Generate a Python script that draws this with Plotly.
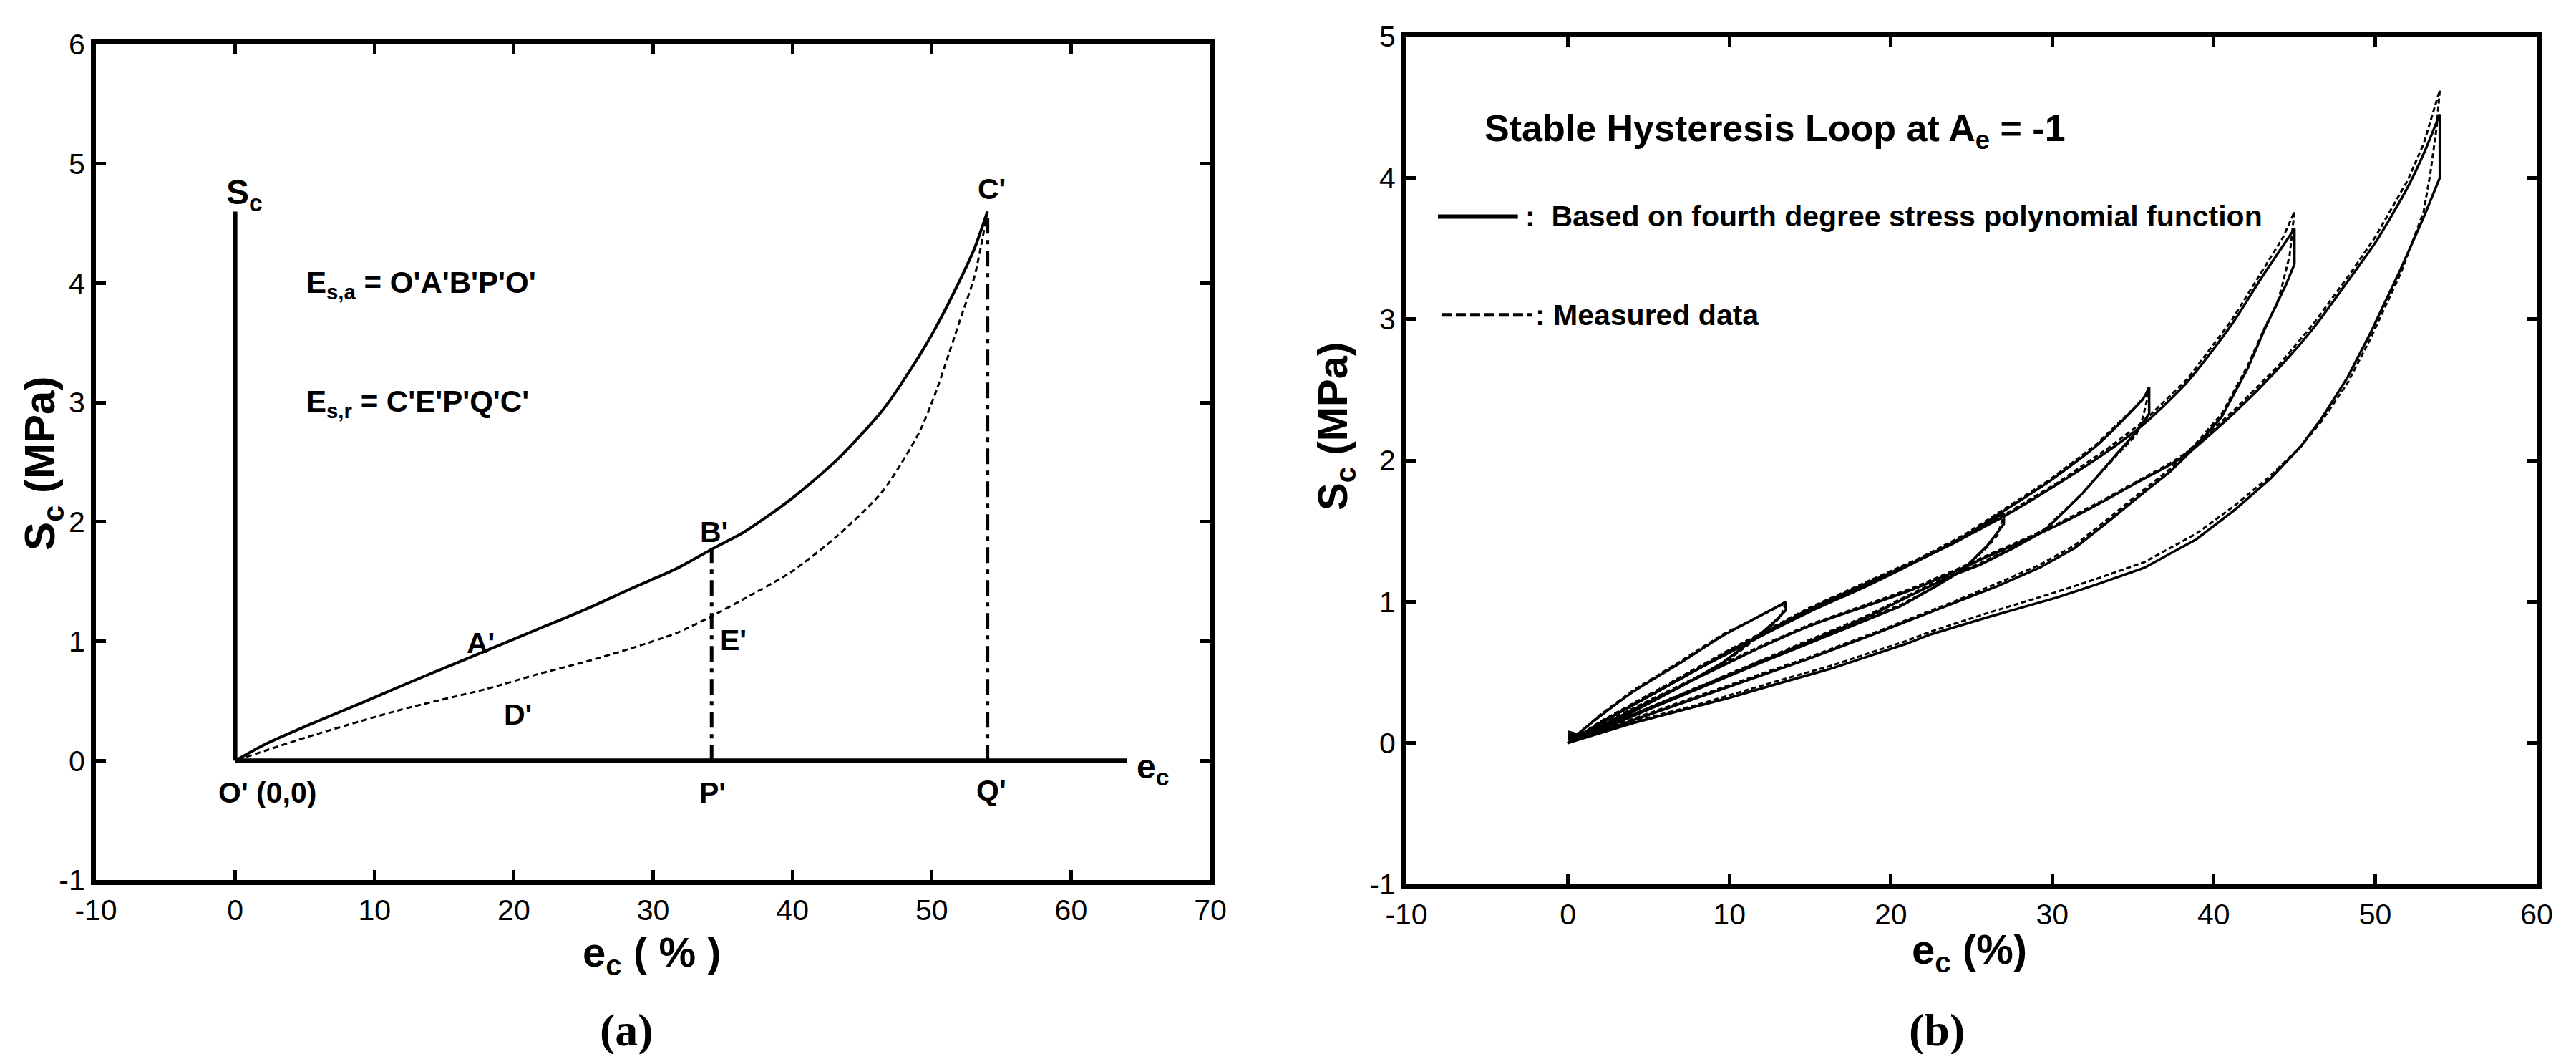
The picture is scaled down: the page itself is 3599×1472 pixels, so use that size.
import plotly.graph_objects as go

W, H = 3599, 1472

# ---------------- Panel (a) data ----------------
A_LOAD_X = [0, 2.2, 5.5, 8.8, 12.0, 15.3, 18.0, 21.9, 25.2, 28.4, 31.7, 34.2, 36.6, 39.9, 43.2, 46.5, 49.1, 50.3, 52.0, 53.1, 54.0]
A_LOAD_Y = [0, 0.14, 0.31, 0.47, 0.63, 0.79, 0.92, 1.11, 1.27, 1.44, 1.61, 1.77, 1.92, 2.19, 2.52, 2.94, 3.39, 3.63, 4.02, 4.30, 4.6]
A_UNLOAD_X = [54.0, 53.1, 52.0, 50.3, 49.1, 46.5, 43.2, 39.9, 36.6, 34.2, 31.7, 28.4, 25.2, 21.9, 18.0, 12.0, 5.5, 0]
A_UNLOAD_Y = [4.6, 4.07, 3.68, 3.09, 2.75, 2.26, 1.88, 1.58, 1.36, 1.21, 1.07, 0.94, 0.83, 0.73, 0.60, 0.43, 0.21, 0]
A_SC_AXIS_TOP = 4.6
A_EC_AXIS_END = 64
A_POINT_B = (34.2, 1.77)
A_POINT_C = (54.0, 4.6)

# ---------------- Panel (b) data: model (solid) ----------------
M1_LOAD_X = [0, 1, 2, 4, 7, 9.6, 11.9, 13.2, 13.5]
M1_LOAD_Y = [0, 0.1, 0.19, 0.36, 0.57, 0.76, 0.9, 0.98, 1.0]
M1_UNL_X = [13.5, 13.5, 12.8, 12.1, 11.0, 9.6, 7.0, 5.0, 3.0, 1.0, 0]
M1_UNL_Y = [1.0, 0.94, 0.86, 0.79, 0.69, 0.57, 0.40, 0.28, 0.16, 0.05, 0.06]

M2_LOAD_X = [0, 2, 5, 8, 10, 12, 15, 18.5, 20.65, 22, 24, 25.5, 27]
M2_LOAD_Y = [0, 0.14, 0.33, 0.52, 0.64, 0.76, 0.94, 1.12, 1.24, 1.31, 1.42, 1.52, 1.63]
M2_UNL_X = [27, 27, 26, 24.4, 22.8, 20.65, 18.5, 15, 12, 8, 4, 1, 0]
M2_UNL_Y = [1.63, 1.55, 1.40, 1.22, 1.11, 0.97, 0.87, 0.71, 0.57, 0.38, 0.19, 0.05, 0.08]

M3_LOAD_X = [0, 2, 5, 8, 10, 12, 15, 18.5, 22, 24.5, 27.1, 29.8, 32.7, 34.5, 35.7, 36]
M3_LOAD_Y = [0, 0.14, 0.33, 0.52, 0.65, 0.77, 0.95, 1.13, 1.31, 1.46, 1.65, 1.85, 2.10, 2.30, 2.45, 2.52]
M3_UNL_X = [36, 36, 35.2, 34.1, 31.9, 29.5, 27.6, 25.5, 23.9, 21.7, 18.5, 15, 10, 5, 2, 0]
M3_UNL_Y = [2.52, 2.33, 2.20, 2.06, 1.77, 1.50, 1.38, 1.26, 1.19, 1.07, 0.89, 0.72, 0.48, 0.24, 0.09, 0.05]

M4_LOAD_X = [0, 2, 5, 8, 10, 12, 15, 18.5, 20.65, 23.9, 27.1, 30.3, 33.5, 35.7, 38.4, 41.1, 43, 44.3, 45]
M4_LOAD_Y = [0, 0.14, 0.33, 0.52, 0.64, 0.76, 0.93, 1.11, 1.23, 1.42, 1.61, 1.83, 2.07, 2.26, 2.56, 2.96, 3.30, 3.52, 3.64]
M4_UNL_X = [45, 45, 44.5, 43.9, 43.2, 42.1, 40.5, 38.9, 37.3, 35.2, 33.5, 31.4, 29.2, 26.6, 23.9, 21.2, 18.5, 15, 10, 5, 2, 0]
M4_UNL_Y = [3.64, 3.39, 3.25, 3.11, 2.94, 2.65, 2.31, 2.10, 1.92, 1.73, 1.57, 1.38, 1.24, 1.11, 0.99, 0.87, 0.75, 0.60, 0.40, 0.20, 0.08, 0.03]

M5_LOAD_X = [0, 2, 5, 8, 10, 12, 15, 18.5, 21.2, 23.9, 25.8, 28.2, 30.3, 33, 35.2, 37.3, 38.4, 41.3, 44, 46.2, 48.5, 50, 52, 53, 54]
M5_LOAD_Y = [0, 0.12, 0.29, 0.46, 0.57, 0.68, 0.83, 0.97, 1.08, 1.21, 1.31, 1.43, 1.54, 1.70, 1.84, 1.97, 2.05, 2.34, 2.65, 2.94, 3.30, 3.54, 3.93, 4.17, 4.45]
M5_UNL_X = [54, 54, 53, 51.6, 49.7, 48.3, 46.7, 45.4, 43.5, 41.3, 38.9, 35.7, 32.7, 30.3, 26, 22.5, 20.9, 18.5, 16.4, 13, 10, 8, 6, 4, 2, 0]
M5_UNL_Y = [4.45, 4.0, 3.72, 3.36, 2.90, 2.59, 2.30, 2.10, 1.87, 1.65, 1.44, 1.24, 1.12, 1.03, 0.89, 0.77, 0.70, 0.61, 0.53, 0.42, 0.32, 0.26, 0.20, 0.14, 0.07, 0.0]

# ---------------- Panel (b) data: measured (dashed) ----------------
D1_X = [0, 1, 2, 4, 7, 9.6, 11.9, 13.2, 13.5, 13.2, 12.8, 12.1, 11.0, 9.6, 7.0, 5.0, 3.0, 1.0, 0]
D1_Y = [0, 0.1, 0.2, 0.37, 0.58, 0.77, 0.9, 0.97, 0.99, 0.90, 0.85, 0.78, 0.68, 0.56, 0.40, 0.28, 0.16, 0.05, 0.04]

D2_X = [0, 2, 5, 8, 10, 12, 15, 18.5, 20.65, 22, 24, 25.5, 27, 26.6, 26, 24.4, 22.8, 20.65, 18.5, 15, 12, 8, 4, 1, 0]
D2_Y = [0, 0.15, 0.34, 0.53, 0.65, 0.77, 0.95, 1.12, 1.24, 1.31, 1.42, 1.51, 1.61, 1.47, 1.39, 1.22, 1.11, 0.98, 0.88, 0.72, 0.58, 0.39, 0.20, 0.06, 0.05]

D3_X = [0, 2, 5, 8, 10, 12, 15, 18.5, 22, 24.5, 27.1, 29.8, 32.7, 34.5, 35.7, 36, 35.6, 35.2, 34.1, 31.9, 29.5, 27.6, 25.5, 23.9, 21.7, 18.5, 15, 10, 5, 2, 0]
D3_Y = [0, 0.15, 0.34, 0.53, 0.66, 0.78, 0.96, 1.14, 1.32, 1.47, 1.66, 1.86, 2.11, 2.31, 2.44, 2.49, 2.30, 2.18, 2.05, 1.77, 1.51, 1.39, 1.27, 1.20, 1.08, 0.90, 0.73, 0.49, 0.25, 0.10, 0.04]

D4_X = [0, 2, 5, 8, 10, 12, 15, 18.5, 20.65, 23.9, 27.1, 30.3, 33.5, 35.7, 38.4, 41.1, 43, 44.3, 45, 44.7, 44.2, 43.9, 43.2, 42.1, 40.5, 38.9, 37.3, 35.2, 33.5, 31.4, 29.2, 26.6, 23.9, 21.2, 18.5, 15, 10, 5, 2, 0]
D4_Y = [0, 0.15, 0.34, 0.53, 0.65, 0.77, 0.94, 1.12, 1.24, 1.43, 1.62, 1.84, 2.09, 2.28, 2.58, 2.99, 3.34, 3.58, 3.76, 3.45, 3.22, 3.10, 2.95, 2.67, 2.33, 2.12, 1.94, 1.75, 1.59, 1.40, 1.26, 1.13, 1.00, 0.88, 0.76, 0.61, 0.41, 0.21, 0.09, 0.04]

D5_X = [0, 2, 5, 8, 10, 12, 15, 18.5, 21.2, 23.9, 25.8, 28.2, 30.3, 33, 35.2, 37.3, 38.4, 41.3, 44, 46.2, 48.5, 50, 52, 53, 54, 53.8, 53.4, 53, 51.6, 49.7, 48.3, 46.7, 45.4, 43.5, 41.3, 38.9, 35.7, 32.7, 30.3, 26, 22.5, 20.9, 18.5, 16.4, 13, 10, 8, 6, 4, 2, 0]
D5_Y = [0, 0.13, 0.30, 0.47, 0.58, 0.69, 0.84, 0.98, 1.09, 1.22, 1.32, 1.44, 1.55, 1.71, 1.85, 1.98, 2.06, 2.36, 2.67, 2.97, 3.33, 3.58, 3.98, 4.24, 4.62, 4.35, 4.02, 3.76, 3.33, 2.86, 2.55, 2.28, 2.10, 1.89, 1.68, 1.48, 1.28, 1.16, 1.07, 0.92, 0.79, 0.72, 0.63, 0.55, 0.44, 0.34, 0.27, 0.21, 0.15, 0.08, 0.02]

# tick values / labels
A_XTICKS = [-10, 0, 10, 20, 30, 40, 50, 60, 70]
A_YTICKS = [-1, 0, 1, 2, 3, 4, 5, 6]
B_XTICKS = [-10, 0, 10, 20, 30, 40, 50, 60]
B_YTICKS = [-1, 0, 1, 2, 3, 4, 5]


def lab(v):
    return "-" + str(-v) if v < 0 else str(v)


BLACK = "#000000"
SANS = "Liberation Sans, Arial, sans-serif"
SERIF = "Liberation Serif, Times New Roman, serif"

fig = go.Figure()


def line(x, y, xa, ya, width, dash="solid", shape="linear"):
    fig.add_trace(go.Scatter(x=x, y=y, xaxis=xa, yaxis=ya, mode="lines",
                             line=dict(color=BLACK, width=width, dash=dash, shape=shape,
                                       smoothing=0.7 if shape == "spline" else None),
                             hoverinfo="skip", showlegend=False))


# ---- panel (a) ----
line([0, 0], [0, A_SC_AXIS_TOP], "x", "y", 6)
line([0, A_EC_AXIS_END], [0, 0], "x", "y", 6)
line(A_LOAD_X, A_LOAD_Y, "x", "y", 4, shape="spline")
line(A_UNLOAD_X, A_UNLOAD_Y, "x", "y", 3, "8px,5px", shape="spline")
DASHDOT = "22px,9px,6px,9px"
line([A_POINT_B[0], A_POINT_B[0]], [0, A_POINT_B[1]], "x", "y", 5, DASHDOT)
line([A_POINT_C[0], A_POINT_C[0]], [0, A_POINT_C[1]], "x", "y", 5, DASHDOT)

# ---- panel (b) ----
model_loops = [
    (M1_LOAD_X, M1_LOAD_Y, M1_UNL_X, M1_UNL_Y),
    (M2_LOAD_X, M2_LOAD_Y, M2_UNL_X, M2_UNL_Y),
    (M3_LOAD_X, M3_LOAD_Y, M3_UNL_X, M3_UNL_Y),
    (M4_LOAD_X, M4_LOAD_Y, M4_UNL_X, M4_UNL_Y),
    (M5_LOAD_X, M5_LOAD_Y, M5_UNL_X, M5_UNL_Y),
]
measured_loops = [(D1_X, D1_Y), (D2_X, D2_Y), (D3_X, D3_Y), (D4_X, D4_Y), (D5_X, D5_Y)]
for dx, dy in measured_loops:
    line(dx, dy, "x2", "y2", 3, "7px,4px")
for lx, ly, ux, uy in model_loops:
    line(lx, ly, "x2", "y2", 3.5, shape="spline")
    line(ux, uy, "x2", "y2", 3.5)

# legend samples (drawn as shapes in data coords of panel b)
LEG_SOLID = dict(x0=-8.05, x1=-3.1, y=3.726)
LEG_DASH = dict(x0=-7.83, x1=-2.2, y=3.03)
shapes = [
    dict(type="line", xref="x2", yref="y2", x0=LEG_SOLID["x0"], x1=LEG_SOLID["x1"],
         y0=LEG_SOLID["y"], y1=LEG_SOLID["y"], line=dict(color=BLACK, width=6)),
    dict(type="line", xref="x2", yref="y2", x0=LEG_DASH["x0"], x1=LEG_DASH["x1"],
         y0=LEG_DASH["y"], y1=LEG_DASH["y"], line=dict(color=BLACK, width=5, dash="14px,6px")),
]

ann = []


def text(t, x, y, xref, yref, size, xanchor="center", yanchor="middle", family=SANS, angle=0):
    ann.append(dict(text=t, x=x, y=y, xref=xref, yref=yref, showarrow=False,
                    xanchor=xanchor, yanchor=yanchor, textangle=angle,
                    font=dict(family=family, size=size, color=BLACK)))


# panel (a) labels
text("<b>S<sub>c</sub></b>", -0.75, 4.74, "x", "y", 48, xanchor="left")
text("<b>e<sub>c</sub></b>", 64.6, -0.07, "x", "y", 48, xanchor="left")
text("<b>O' (0,0)</b>", 2.3, -0.27, "x", "y", 41)
text("<b>P'</b>", 34.25, -0.27, "x", "y", 41)
text("<b>Q'</b>", 54.3, -0.25, "x", "y", 41)
text("<b>C'</b>", 54.3, 4.79, "x", "y", 41)
text("<b>B'</b>", 34.35, 1.915, "x", "y", 41)
text("<b>A'</b>", 17.6, 0.986, "x", "y", 41)
text("<b>E'</b>", 35.75, 1.01, "x", "y", 41)
text("<b>D'</b>", 20.3, 0.386, "x", "y", 41)
text("<b>E<sub>s,a</sub> = O'A'B'P'O'</b>", 5.0, 3.99, "x", "y", 42, xanchor="left")
text("<b>E<sub>s,r</sub> = C'E'P'Q'C'</b>", 5.0, 2.99, "x", "y", 42, xanchor="left")

# panel (b) labels
text("<b>Stable Hysteresis Loop at A<sub>e</sub> = -1</b>", -5.26, 4.33, "x2", "y2", 52, xanchor="left")
text("<b>:  Based on fourth degree stress polynomial function</b>", -2.75, 3.726, "x2", "y2", 41, xanchor="left")
text("<b>: Measured data</b>", -2.1, 3.03, "x2", "y2", 41, xanchor="left")

# axis titles & panel captions (paper coords)
text("<b>e<sub>c</sub> ( % )</b>", 902 / W, 1 - 1326 / H, "paper", "paper", 58)
text("<b>e<sub>c</sub> (%)</b>", 2743 / W, 1 - 1322 / H, "paper", "paper", 58)
text("<b>S<sub>c</sub> (MPa)</b>", 52 / W, 1 - 640 / H, "paper", "paper", 60, angle=-90)
text("<b>S<sub>c</sub> (MPa)</b>", 1858 / W, 1 - 588 / H, "paper", "paper", 58, angle=-90)
text("<b>(a)</b>", 867 / W, 1 - 1430 / H, "paper", "paper", 64, family=SERIF)
text("<b>(b)</b>", 2698 / W, 1 - 1430 / H, "paper", "paper", 64, family=SERIF)

axis_common = dict(showline=True, linewidth=7, linecolor=BLACK, mirror="ticks",
                   ticks="inside", ticklen=14, tickwidth=5, tickcolor=BLACK,
                   showgrid=False, zeroline=False, automargin=False,
                   tickfont=dict(family=SANS, size=41, color=BLACK), fixedrange=True)

fig.update_layout(
    width=W, height=H,
    margin=dict(l=0, r=0, t=0, b=0, pad=0, autoexpand=False),
    paper_bgcolor="white", plot_bgcolor="white",
    showlegend=False,
    xaxis=dict(domain=[126 / W, 1683 / W], range=[-10, 70], anchor="y",
               tickvals=A_XTICKS, ticktext=[lab(v) for v in A_XTICKS], **axis_common),
    yaxis=dict(domain=[1 - 1221 / H, 1 - 54 / H], range=[-1, 6], anchor="x",
               tickvals=A_YTICKS, ticktext=[lab(v) for v in A_YTICKS], **axis_common),
    xaxis2=dict(domain=[1957 / W, 3536 / W], range=[-10, 60], anchor="y2",
                tickvals=B_XTICKS, ticktext=[lab(v) for v in B_XTICKS], **axis_common),
    yaxis2=dict(domain=[1 - 1227 / H, 1 - 43 / H], range=[-1, 5], anchor="x2",
                tickvals=B_YTICKS, ticktext=[lab(v) for v in B_YTICKS], **axis_common),
    shapes=shapes,
    annotations=ann,
)

fig.write_html("out.html", include_plotlyjs=True, config={"displayModeBar": False})
